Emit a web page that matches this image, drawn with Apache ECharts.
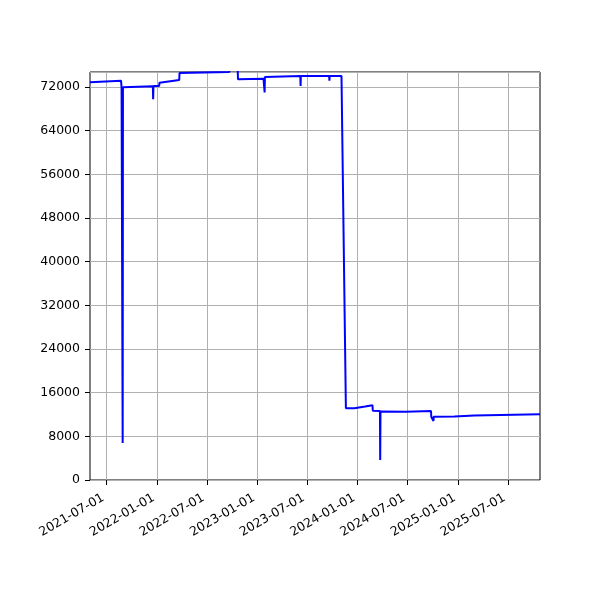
<!DOCTYPE html>
<html><head><meta charset="utf-8">
<script src="https://cdn.jsdelivr.net/npm/echarts@6/dist/echarts.min.js"></script>
<style>html,body{margin:0;padding:0;background:#fff}#c{width:600px;height:600px}</style>
</head><body><div id="c"></div>
<script>
const dates = [
 '2021-05-01','2021-08-22','2021-08-24','2021-08-27','2021-08-28','2021-08-29',
 '2021-12-16','2021-12-17','2021-12-18','2022-01-08','2022-01-09','2022-03-22',
 '2022-03-23','2022-09-20','2022-09-22','2022-10-21','2022-10-22','2023-01-23',
 '2023-01-25','2023-01-27','2023-01-28','2023-06-06','2023-06-07','2023-06-08',
 '2023-09-19','2023-09-20','2023-09-21','2023-11-03','2023-11-19','2023-12-20',
 '2023-12-21','2024-01-28','2024-01-29','2024-02-24','2024-02-25','2024-03-22',
 '2024-03-23','2024-03-24','2024-06-25','2024-06-26','2024-09-24','2024-09-25',
 '2024-10-02','2024-10-03','2024-10-04','2024-12-18','2024-12-19','2025-03-01',
 '2025-10-26'
];
const values = [
 72870,73160,71900,71950,6800,71950,
 72150,69750,72180,72200,72800,73300,
 74570,74750,75200,75200,73410,73500,
 73840,71000,73840,74020,72190,74020,
 74030,73160,74030,74020,13130,13130,
 13430,13450,13680,13680,12700,12650,
 3660,12550,12520,12640,12640,11600,
 11600,10800,11600,11620,11850,11800,
 12030
];
const tickDates = ['2021-07-01','2022-01-01','2022-07-01','2023-01-01','2023-07-01',
 '2024-01-01','2024-07-01','2025-01-01','2025-07-01'];
const yTicks = [0,8000,16000,24000,32000,40000,48000,56000,64000,72000];

const chart = echarts.init(document.getElementById('c'), null, {renderer:'canvas'});
const font = 'DejaVu Sans';
const tickTimes = tickDates.map(d=>+new Date(d+'T00:00:00'));
chart.setOption({
  animation:false,
  backgroundColor:'#fff',
  grid:{left:90,right:60,top:72,bottom:120,show:true,borderColor:'#000',borderWidth:1,backgroundColor:'transparent'},
  xAxis:{
    type:'time',
    min:dates[0], max:dates[dates.length-1],
    axisLine:{show:false},
    axisTick:{show:true,length:5,inside:false,lineStyle:{color:'#000'},customValues:tickTimes},
    axisLabel:{customValues:tickTimes,rotate:30,formatter:'{yyyy}-{MM}-{dd}',color:'#000',fontFamily:font,fontSize:12.5,margin:15,padding:[0,4,0,0],hideOverlap:false,showMinLabel:true,showMaxLabel:true},
    splitLine:{show:true,lineStyle:{color:'#b0b0b0',width:1}}
  },
  yAxis:{
    type:'value',min:0,max:74750,interval:8000,
    axisLine:{show:false},
    axisTick:{show:true,length:5,lineStyle:{color:'#000'}},
    axisLabel:{color:'#000',fontFamily:font,fontSize:12.5,margin:10,showMaxLabel:false,
      formatter:v=>yTicks.includes(v)?String(v):''},
    splitLine:{show:true,lineStyle:{color:'#b0b0b0',width:1}}
  },
  series:[{
    type:'line',
    data:dates.map((d,i)=>[d,values[i]]),
    showSymbol:false,symbol:'none',
    clip:true,
    lineStyle:{color:'#0000ff',width:2},
    itemStyle:{color:'#0000ff'}
  }]
});
</script></body></html>
